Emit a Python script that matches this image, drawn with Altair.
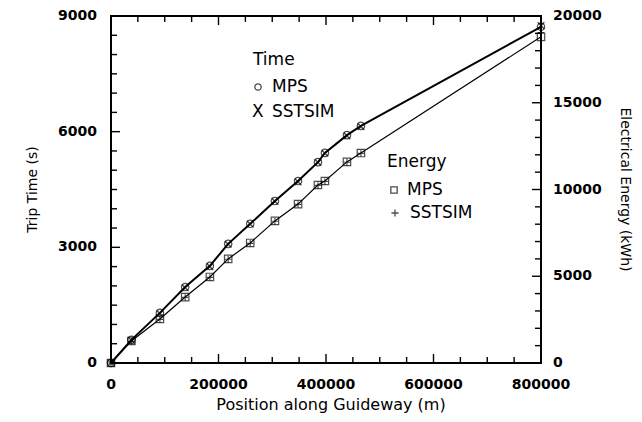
import altair as alt
import pandas as pd

# ---- data ----
position = [0, 38000, 91000, 138000, 184000, 218000, 259000, 305000, 348000, 385000, 398000, 439000, 465000, 800000]
time_mps = [0, 600, 1300, 1970, 2520, 3090, 3610, 4200, 4720, 5210, 5450, 5910, 6150, 8720]
time_sstsim = [0, 590, 1280, 1950, 2500, 3080, 3600, 4190, 4700, 5200, 5440, 5890, 6130, 8750]
energy_mps = [0, 1270, 2540, 3800, 4960, 6000, 6920, 8190, 9160, 10260, 10490, 11590, 12100, 18800]
energy_sstsim = [0, 1250, 2520, 3780, 4940, 5980, 6900, 8170, 9140, 10240, 10470, 11570, 12080, 19050]

x_labels = [0, 200000, 400000, 600000, 800000]
time_labels = [0, 3000, 6000, 9000]
energy_labels = [0, 5000, 10000, 15000, 20000]
x_ticks = list(range(0, 800001, 50000))
time_ticks = list(range(0, 9001, 500))
energy_ticks = list(range(0, 20001, 1000))

W, H = 430, 347
FONT = "DejaVu Sans"

df = pd.DataFrame({"pos": position, "time_mps": time_mps, "time_sst": time_sstsim,
                   "energy_mps": energy_mps, "energy_sst": energy_sstsim})

xs = alt.Scale(domain=[0, 800000], nice=False, zero=False)
ts = alt.Scale(domain=[0, 9000], nice=False)
es = alt.Scale(domain=[0, 20000], nice=False)

X_SHAPE = "M-1,-1L1,1M-1,1L1,-1"
PLUS_SHAPE = "M-1,0L1,0M0,-1L0,1"

base = alt.Chart(df)
Xn = alt.X("pos:Q", scale=xs, axis=None)

# ---- time group ----
time_line = base.mark_line(color="black", strokeWidth=2).encode(
    x=Xn, y=alt.Y("time_mps:Q", scale=ts, axis=None))
time_circ = base.mark_point(shape="circle", size=55, color="black", filled=False, strokeWidth=1.2).encode(
    x=Xn, y=alt.Y("time_mps:Q", scale=ts, axis=None))
time_x = base.mark_point(shape=X_SHAPE, size=45, color="black", filled=False, strokeWidth=1.4).encode(
    x=Xn, y=alt.Y("time_sst:Q", scale=ts, axis=None))

xt = pd.DataFrame({"pos": x_ticks, "major": [v % 200000 == 0 for v in x_ticks]})
tt = pd.DataFrame({"v": time_ticks, "major": [v % 3000 == 0 for v in time_ticks]})
et = pd.DataFrame({"v": energy_ticks, "major": [v % 5000 == 0 for v in energy_ticks]})

def xtick(major, top):
    n = 9 if major else 6
    flt = "datum.major" if major else "!datum.major"
    y0, y1 = (0, n) if top else (H, H - n)
    return alt.Chart(xt).transform_filter(flt).mark_rule(color="black", strokeWidth=1.4).encode(
        x=Xn, y=alt.value(y0), y2=alt.value(y1))

def ytick(data, scale, major, right):
    n = 9 if major else 6
    flt = "datum.major" if major else "!datum.major"
    x0, x1 = (W - n, W) if right else (0, n)
    return alt.Chart(data).transform_filter(flt).mark_rule(color="black", strokeWidth=1.4).encode(
        y=alt.Y("v:Q", scale=scale, axis=None), x=alt.value(x0), x2=alt.value(x1))

# ---- axis labels and titles (values through the scales) ----
LBL = dict(font=FONT, fontSize=14, fontWeight="bold", color="black")
x_lab = alt.Chart(pd.DataFrame({"pos": x_labels})).mark_text(align="center", baseline="middle", **LBL).encode(
    x=Xn, y=alt.value(H + 22), text=alt.Text("pos:Q", format="d"))
t_lab = alt.Chart(pd.DataFrame({"v": time_labels})).mark_text(align="right", baseline="middle", **LBL).encode(
    y=alt.Y("v:Q", scale=ts, axis=None), x=alt.value(-14), text=alt.Text("v:Q", format="d"))
e_lab = alt.Chart(pd.DataFrame({"v": energy_labels})).mark_text(align="left", baseline="middle", **LBL).encode(
    y=alt.Y("v:Q", scale=es, axis=None), x=alt.value(W + 12), text=alt.Text("v:Q", format="d"))

one = pd.DataFrame({"a": [0]})

def txt(s, x, y, size=17, angle=0, align="left"):
    return alt.Chart(one).mark_text(align=align, baseline="middle", font=FONT, fontSize=size,
                                    angle=angle, color="#000000").encode(
        x=alt.value(x), y=alt.value(y), text=alt.value(s))

def sym(shape, x, y, size):
    return alt.Chart(one).mark_point(shape=shape, size=size, color="black", filled=False,
                                     strokeWidth=1.3).encode(x=alt.value(x), y=alt.value(y))

titles = [
    txt("Position along Guideway (m)", 220, H + 42, size=16, align="center"),
    txt("Trip Time (s)", -78, H / 2, size=14, angle=270, align="center"),
    txt("Electrical Energy (kWh)", W + 84, H / 2, size=14, angle=90, align="center"),
]

legend = [
    txt("Time", 142, 44),
    sym("circle", 147, 71, 40), txt("MPS", 161, 71),
    txt("X", 141, 96), txt("SSTSIM", 161, 96),
    txt("Energy", 276, 146),
    sym("square", 283, 174, 40), txt("MPS", 296, 174),
    sym(PLUS_SHAPE, 284, 197, 50), txt("SSTSIM", 299, 197),
]

time_group = alt.layer(
    time_line, time_circ, time_x,
    xtick(True, False), xtick(False, False), xtick(True, True), xtick(False, True),
    ytick(tt, ts, True, False), ytick(tt, ts, False, False),
    x_lab, t_lab, *titles, *legend,
)

# ---- energy group ----
energy_line = base.mark_line(color="black", strokeWidth=1.2).encode(
    x=Xn, y=alt.Y("energy_mps:Q", scale=es, axis=None))
energy_sq = base.mark_point(shape="square", size=55, color="black", filled=False, strokeWidth=1.2).encode(
    x=Xn, y=alt.Y("energy_mps:Q", scale=es, axis=None))
energy_plus = base.mark_point(shape=PLUS_SHAPE, size=40, color="black", filled=False, strokeWidth=1.2).encode(
    x=Xn, y=alt.Y("energy_sst:Q", scale=es, axis=None))

energy_group = alt.layer(
    energy_line, energy_sq, energy_plus,
    ytick(et, es, True, True), ytick(et, es, False, True),
    e_lab,
)

chart = alt.layer(time_group, energy_group).resolve_scale(y="independent").properties(
    width=W, height=H,
    padding={"left": 103, "top": 8, "right": 93, "bottom": 51},
    autosize=alt.AutoSizeParams(type="none"),
    background="white",
).configure_view(stroke="black", strokeWidth=2)

chart.save("out.html", embed_options={"renderer": "svg", "actions": False})
